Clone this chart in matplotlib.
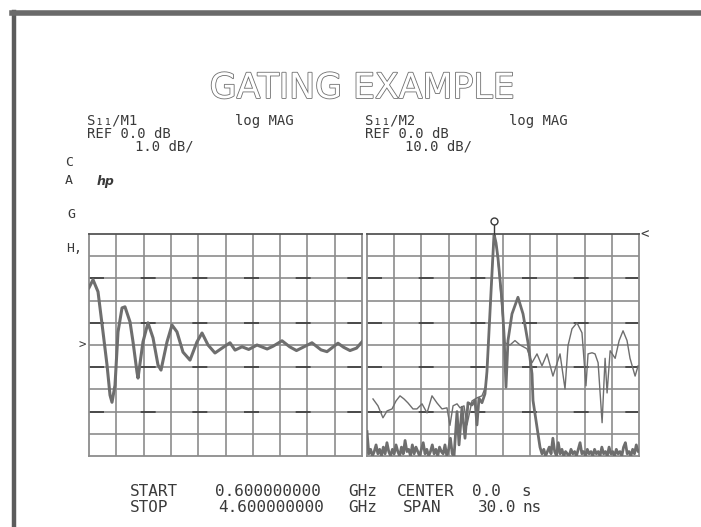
import matplotlib
matplotlib.use("Agg")
import matplotlib.pyplot as plt
import matplotlib.patheffects as pe
import numpy as np

W, H = 701, 527

# channel 1: S11 log magnitude vs frequency (GHz, dB)
freq_ghz = [0.60, 0.659, 0.732, 0.805, 0.864, 0.908, 0.937, 0.981, 1.025, 1.084,
            1.127, 1.201, 1.245, 1.303, 1.318, 1.391, 1.464, 1.538, 1.611, 1.655,
            1.743, 1.816, 1.889, 1.977, 2.080, 2.182, 2.256, 2.344, 2.446, 2.549,
            2.666, 2.740, 2.842, 2.940, 3.062, 3.210, 3.300, 3.428, 3.540, 3.640,
            3.750, 3.867, 4.000, 4.087, 4.248, 4.330, 4.424, 4.520, 4.600]
s11_db = [2.58, 2.94, 2.40, 0.59, -0.90, -2.26, -2.58, -1.81, 0.59, 1.67,
          1.72, 1.04, 0.14, -1.22, -1.49, 0.14, 1.00, 0.32, -0.90, -1.13,
          0.14, 0.90, 0.59, -0.32, -0.68, 0.14, 0.54, 0.00, -0.36, -0.14,
          0.10, -0.23, -0.08, -0.20, 0.00, -0.18, -0.05, 0.19, -0.08, -0.25,
          -0.08, 0.10, -0.22, -0.30, 0.08, -0.10, -0.25, -0.14, 0.14]

# channel 2, gated trace: noise floor before the gate (0.2 ns sweep steps)
floor_pre_db = [-99, -97, -100, -98, -95, -99, -97, -100, -96, -99,
                -94, -98, -100, -97, -99, -95, -98, -100, -96, -99,
                -93, -98, -97, -100, -95, -99, -96, -98, -100, -97,
                -94, -99, -97, -100, -98, -95, -99, -97, -100, -96,
                -98, -99, -95, -100, -97, -92, -99, -100]
floor_pre_ns = np.round(-14.8 + 0.2 * np.arange(len(floor_pre_db)), 2)

# gated trace through the gate span
gate_ns = [-5.07, -4.85, -4.52, -4.19, -3.86, -3.42, -3.09, -2.87, -2.65, -2.32,
           -1.99, -1.77, -1.54, -1.32, -1.10, -0.99, -0.77, -0.55, -0.11, 0.11,
           0.33, 0.55, 0.99, 1.65, 2.21, 2.76, 3.20, 3.31, 3.75, 4.08]
gate_db = [-80, -95, -78, -92, -76, -77, -75, -86, -74, -76,
           -72, -62, -44, -26, -8, 0, -4, -11, -30, -45,
           -69, -48, -36, -28.5, -36, -49, -63, -75, -87, -96]

# noise floor after the gate
floor_post_db = [-99, -97, -100, -98, -96, -99, -92, -98, -100, -94,
                 -99, -97, -100, -98, -99, -100, -97, -99, -98, -100,
                 -97, -94, -99, -98, -100, -97, -99, -98, -100, -97,
                 -99, -98, -100, -96, -99, -98, -100, -96, -99, -98,
                 -100, -97, -99, -98, -100, -96, -94, -99, -98, -100,
                 -97, -99, -95, -98]
floor_post_ns = np.round(4.3 + 0.2 * np.arange(len(floor_post_db)), 2)

# channel 2: ungated trace
ungated_ns = [-14.34, -13.79, -13.24, -12.79, -12.24, -11.80, -11.36, -10.92, -10.48, -9.93,
              -9.49, -8.93, -8.38, -7.83, -7.28, -6.73, -6.18, -5.85, -5.51, -5.07,
              -4.74, -4.30, -3.97, -3.42, -2.87, -2.32, -1.88, -1.77, -1.54, -1.32,
              -1.10, -0.99, -0.77, -0.55, -0.33, -0.11, 0.22, 0.77, 1.32, 1.88,
              2.65, 3.20, 3.75, 4.30, 4.85, 5.51, 6.29, 6.84, 7.17, 7.61,
              8.16, 8.71, 9.15, 9.38, 9.82, 10.15, 10.49, 10.93, 11.26, 11.48,
              11.82, 12.37, 12.81, 13.24, 13.68, 14.01, 14.57, 14.90]
ungated_db = [-74.3, -77.4, -82.8, -79.7, -78.8, -75.2, -72.9, -74.3, -76.1, -78.8,
              -78.8, -76.5, -80.6, -72.9, -76.1, -78.8, -78.3, -86.2, -77.4, -76.5,
              -78.3, -77.4, -86.0, -75.2, -73.8, -72.9, -68.4, -62, -44, -26,
              -8, 0, -4, -12, -22, -34, -49, -50, -48, -50,
              -51.7, -58, -54, -59.4, -54, -64, -54, -69.8, -50.3, -42.7,
              -40, -44.5, -68.4, -54, -53.5, -54, -58, -85, -56, -71.6,
              -52.6, -56, -48, -43.6, -48, -56, -64, -59.4]

# annotation text: (x, y, string) in output pixels
header = [(87, 121, "S\u2081\u2081/M1"), (235, 121, "log MAG"),
          (365, 121, "S\u2081\u2081/M2"), (509, 121, "log MAG"),
          (87, 134, "REF 0.0 dB"), (365, 134, "REF 0.0 dB"),
          (135, 147, "1.0 dB/"), (405, 147, "10.0 dB/")]
side_labels = [(65, 162, "C"), (65, 181, "A"), (67, 215, "G"), (66, 249, "H,")]
footer = [(130, 492, "START"), (215, 492, "0.600000000"), (348, 492, "GHz"),
          (397, 492, "CENTER"), (472, 492, "0.0"), (521, 492, "s"),
          (130, 508, "STOP"), (218, 508, "4.600000000"), (348, 508, "GHz"),
          (403, 508, "SPAN"), (478, 508, "30.0"), (523, 508, "ns")]

GRID = "#8c8c8c"
TRACE = "#6e6e6e"
INK = "#3a3a3a"
MONO = "DejaVu Sans Mono"


def fx(x):
    return x / W


def fy(y):
    return 1 - y / H


def screen(rect, xlim, ylim, nx=10, ny=10):
    x0, y0, x1, y1 = rect
    ax = fig.add_axes([fx(x0), fy(y1), fx(x1 - x0), (y1 - y0) / H])
    ax.set_xlim(*xlim)
    ax.set_ylim(*ylim)
    ax.set_xticks([])
    ax.set_yticks([])
    for s in ax.spines.values():
        s.set_color(GRID)
        s.set_linewidth(1.3)
    ax.spines["top"].set_color("#555555")
    dx = (xlim[1] - xlim[0]) / nx
    dy = (ylim[1] - ylim[0]) / ny
    for i in range(1, nx):
        ax.axvline(xlim[0] + i * dx, color=GRID, lw=1.2, zorder=1)
    for j in range(1, ny):
        yv = ylim[0] + j * dy
        ax.axhline(yv, color=GRID, lw=1.2, zorder=1)
        if j % 2 == 0:
            ax.axhline(yv, color="#3c3c3c", lw=1.2, dashes=(9, 22), zorder=1)
    return ax


fig = plt.figure(figsize=(W / 100, H / 100), dpi=100)
fig.patch.set_facecolor("white")

# scanned frame edges
fig.add_artist(plt.Line2D([fx(14), fx(14)], [fy(12), 0], color="#5c5c5c", lw=3.2))
fig.add_artist(plt.Line2D([fx(12), 1], [fy(13), fy(13)], color="#6a6a6a", lw=4))

ax1 = screen((89, 234, 362, 456), (0.6, 4.6), (-5, 5))
ax1.plot(freq_ghz, s11_db, color=TRACE, lw=2.2, zorder=3)
ax1.text(-0.01, 0.5, ">", transform=ax1.transAxes, ha="right", va="center",
         fontsize=9, color=INK, family=MONO)

gated_ns = [-15.0] + list(floor_pre_ns) + gate_ns + list(floor_post_ns) + [15.0]
gated_db = [-89] + floor_pre_db + gate_db + floor_post_db + [-98]

ax2 = screen((367, 234, 639, 456), (-15, 15), (-100, 0))
ax2.plot(ungated_ns, ungated_db, color=TRACE, lw=1.0, zorder=3)
ax2.plot(gated_ns, gated_db, color=TRACE, lw=2.0, zorder=4)
ax2.text(1.005, 1.0, "<", transform=ax2.transAxes, ha="left", va="center",
         fontsize=10, color=INK, family=MONO)
# marker on the peak
ax2.plot([-0.99, -0.99], [0, 4.5], color=INK, lw=1, clip_on=False, zorder=5)
ax2.plot([-0.99], [6], marker="o", ms=5, mfc="white", mec=INK, mew=1,
         clip_on=False, zorder=5)

# title in outline lettering
fig.text(fx(362), fy(88), "GATING EXAMPLE", ha="center", va="center",
         fontsize=25, color="white", family="DejaVu Sans",
         path_effects=[pe.withStroke(linewidth=1.2, foreground="#6f6f6f")])

for x, y, s in header:
    fig.text(fx(x), fy(y), s, fontsize=10, color=INK, family=MONO, va="center")
for x, y, s in side_labels:
    fig.text(fx(x), fy(y), s, fontsize=9.5, color=INK, family=MONO, va="center")
fig.text(fx(97), fy(182), "hp", fontsize=9, color=INK, style="italic",
         weight="bold", va="center")
for x, y, s in footer:
    fig.text(fx(x), fy(y), s, fontsize=11.5, color=INK, family=MONO, va="center")

fig.savefig("out.png", dpi=100)
